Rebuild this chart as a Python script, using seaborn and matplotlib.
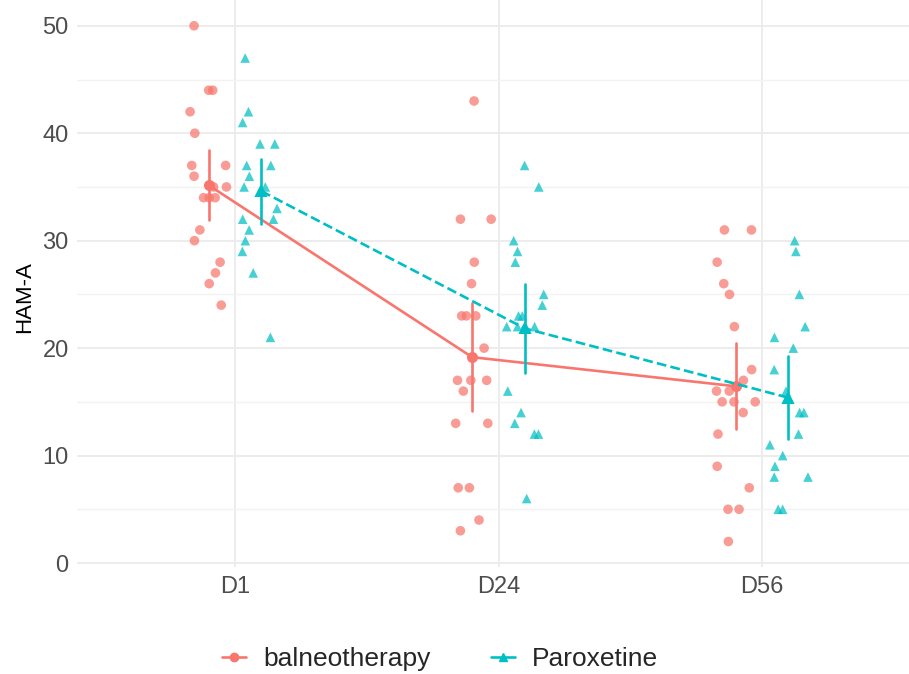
import numpy as np
import pandas as pd
import matplotlib
matplotlib.use("Agg")
import matplotlib.pyplot as plt
from matplotlib.lines import Line2D
import seaborn as sns

# HAM-A scores per treatment group and visit
visits = ["D1", "D24", "D56"]
groups = ["balneotherapy", "Paroxetine"]

balneo_d1 = [50, 44, 44, 42, 40, 37, 37, 36, 35, 35, 34, 34, 34, 31, 30, 28, 27, 26, 24]
balneo_d24 = [43, 32, 32, 28, 26, 23, 23, 23, 20, 17, 17, 17, 16, 13, 13, 7, 7, 4, 3]
balneo_d56 = [31, 31, 28, 26, 25, 22, 18, 17, 16, 16, 15, 15, 15, 14, 12, 9, 7, 5, 5, 2]

parox_d1 = [47, 42, 41, 39, 39, 37, 37, 36, 35, 35, 33, 32, 32, 31, 30, 29, 27, 21]
parox_d24 = [37, 35, 30, 29, 28, 25, 24, 23, 23, 22, 22, 22, 16, 14, 13, 12, 12, 6]
parox_d56 = [30, 29, 25, 22, 21, 20, 18, 16, 14, 14, 12, 11, 10, 9, 8, 8, 5, 5]

palette = {"balneotherapy": "#F8766D", "Paroxetine": "#00BFC4"}
marker_map = {"balneotherapy": "o", "Paroxetine": "^"}

rows = []
for group, per_visit in zip(groups, [(balneo_d1, balneo_d24, balneo_d56),
                                     (parox_d1, parox_d24, parox_d56)]):
    for visit, scores in zip(visits, per_visit):
        for s in scores:
            rows.append((group, visit, s))
df = pd.DataFrame(rows, columns=["group", "visit", "score"])

# horizontal placement: groups dodged either side of each visit, plus jitter
rng = np.random.default_rng(11)
dodge_off = {"balneotherapy": -0.1, "Paroxetine": 0.1}
df["xpos"] = (df["visit"].map({v: i for i, v in enumerate(visits)})
              + df["group"].map(dodge_off)
              + rng.uniform(-0.075, 0.075, len(df)))


def t_interval(v):
    """95% confidence interval of the mean based on Student's t."""
    v = np.asarray(v, float)
    n = len(v)
    m = v.mean()
    se = v.std(ddof=1) / np.sqrt(n)
    z = 1.959964
    nu = n - 1
    t = (z + (z**3 + z) / (4 * nu)
         + (5 * z**5 + 16 * z**3 + 3 * z) / (96 * nu**2)
         + (3 * z**7 + 19 * z**5 + 17 * z**3 - 15 * z) / (384 * nu**3))
    return m - t * se, m + t * se


sns.set_theme(style="white")
plt.rcParams["font.family"] = ["Liberation Sans", "DejaVu Sans"]

fig = plt.figure(figsize=(9.09, 6.74), dpi=100)
ax = fig.add_axes([77 / 909, 1 - 567.3 / 674, (920 - 77) / 909, 567.3 / 674])

sns.pointplot(data=df, x="visit", y="score", hue="group", order=visits,
              hue_order=groups, palette=palette, markers=["o", "^"],
              linestyles=["-", "--"], dodge=0.2, errorbar=t_interval,
              err_kws={"linewidth": 1.9}, linewidth=1.9, markersize=6.5,
              legend=False, ax=ax)

sns.scatterplot(data=df, x="xpos", y="score", hue="group", style="group",
                hue_order=groups, style_order=groups, palette=palette,
                markers=marker_map, s=48, alpha=0.72, linewidth=0,
                legend=False, ax=ax, zorder=1)

ax.set_xlim(-0.6, 2.6)
ax.set_ylim(-0.4, 52.4)
ax.set_xticks(range(len(visits)))
ax.set_xticklabels(visits)
ax.set_yticks(np.arange(0, 51, 10))
ax.set_yticks(np.arange(5, 50, 10), minor=True)
ax.set_xlabel("")
ax.set_ylabel("HAM-A", fontsize=16, color="black")
ax.yaxis.set_label_coords(-0.0498, 1 - 297 / 567.3)

ax.grid(True, which="major", axis="both", color="#EBEBEB", linewidth=1.3, zorder=0)
ax.grid(True, which="minor", axis="y", color="#F2F2F2", linewidth=1.0, zorder=0)
ax.set_axisbelow(True)
for sp in ax.spines.values():
    sp.set_visible(False)
ax.tick_params(axis="both", which="both", length=0, labelsize=17,
               labelcolor="#4D4D4D", pad=6)

handles = [
    Line2D([], [], color=palette["balneotherapy"], marker="o", markersize=6,
           linewidth=1.9),
    Line2D([], [], color=palette["Paroxetine"], marker="^", markersize=6,
           linewidth=1.9),
]
fig.legend(handles, groups, loc="center", bbox_to_anchor=(440 / 909, 15 / 674),
           ncol=2, frameon=False, fontsize=19, handlelength=0.9,
           handletextpad=0.65, columnspacing=2.3)

fig.savefig("out.png", dpi=100)
